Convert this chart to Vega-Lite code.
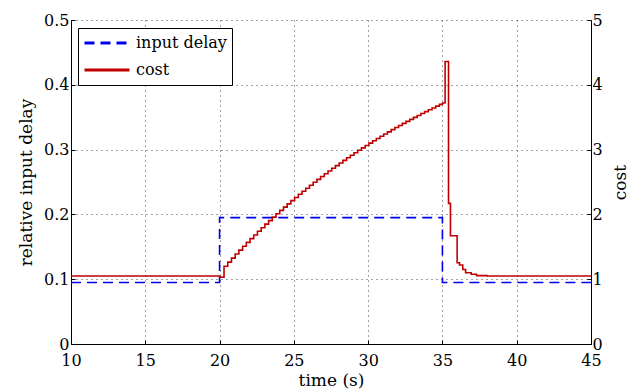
{
  "$schema": "https://vega.github.io/schema/vega-lite/v6.json",
  "width": 520,
  "height": 324,
  "autosize": {"type": "none"},
  "padding": {"left": 71, "top": 20, "right": 40, "bottom": 48},
  "background": "white",
  "config": {
    "font": "DejaVu Serif",
    "view": {"stroke": null},
    "axis": {
      "labelFont": "DejaVu Serif",
      "titleFont": "DejaVu Serif",
      "labelFontSize": 16,
      "titleFontSize": 17,
      "titleFontWeight": "normal",
      "labelColor": "black",
      "titleColor": "black",
      "domainColor": "black",
      "tickColor": "black",
      "domainWidth": 1,
      "tickSize": -4,
      "gridColor": "#444",
      "gridDash": [1, 4],
      "gridWidth": 1
    },
    "legend": {
      "labelFont": "DejaVu Serif",
      "labelFontSize": 16,
      "labelColor": "black"
    }
  },
  "data": {
    "values": [
      {"t": 10, "v": 0.095, "series": "input delay"},
      {"t": 20, "v": 0.195, "series": "input delay"},
      {"t": 35, "v": 0.095, "series": "input delay"},
      {"t": 45, "v": 0.095, "series": "input delay"},
      {"t": 10, "v": 1.05, "series": "cost"},
      {"t": 20.05, "v": 1.03, "series": "cost"},
      {"t": 20.3, "v": 1.2, "series": "cost"},
      {"t": 20.55, "v": 1.264, "series": "cost"},
      {"t": 20.8, "v": 1.326, "series": "cost"},
      {"t": 21.05, "v": 1.388, "series": "cost"},
      {"t": 21.3, "v": 1.449, "series": "cost"},
      {"t": 21.55, "v": 1.509, "series": "cost"},
      {"t": 21.8, "v": 1.568, "series": "cost"},
      {"t": 22.05, "v": 1.626, "series": "cost"},
      {"t": 22.3, "v": 1.683, "series": "cost"},
      {"t": 22.55, "v": 1.74, "series": "cost"},
      {"t": 22.8, "v": 1.795, "series": "cost"},
      {"t": 23.05, "v": 1.85, "series": "cost"},
      {"t": 23.3, "v": 1.904, "series": "cost"},
      {"t": 23.55, "v": 1.958, "series": "cost"},
      {"t": 23.8, "v": 2.01, "series": "cost"},
      {"t": 24.05, "v": 2.062, "series": "cost"},
      {"t": 24.3, "v": 2.113, "series": "cost"},
      {"t": 24.55, "v": 2.163, "series": "cost"},
      {"t": 24.8, "v": 2.213, "series": "cost"},
      {"t": 25.05, "v": 2.261, "series": "cost"},
      {"t": 25.3, "v": 2.31, "series": "cost"},
      {"t": 25.55, "v": 2.357, "series": "cost"},
      {"t": 25.8, "v": 2.404, "series": "cost"},
      {"t": 26.05, "v": 2.45, "series": "cost"},
      {"t": 26.3, "v": 2.495, "series": "cost"},
      {"t": 26.55, "v": 2.54, "series": "cost"},
      {"t": 26.8, "v": 2.584, "series": "cost"},
      {"t": 27.05, "v": 2.627, "series": "cost"},
      {"t": 27.3, "v": 2.67, "series": "cost"},
      {"t": 27.55, "v": 2.712, "series": "cost"},
      {"t": 27.8, "v": 2.753, "series": "cost"},
      {"t": 28.05, "v": 2.794, "series": "cost"},
      {"t": 28.3, "v": 2.834, "series": "cost"},
      {"t": 28.55, "v": 2.874, "series": "cost"},
      {"t": 28.8, "v": 2.913, "series": "cost"},
      {"t": 29.05, "v": 2.952, "series": "cost"},
      {"t": 29.3, "v": 2.99, "series": "cost"},
      {"t": 29.55, "v": 3.027, "series": "cost"},
      {"t": 29.8, "v": 3.064, "series": "cost"},
      {"t": 30.05, "v": 3.1, "series": "cost"},
      {"t": 30.3, "v": 3.136, "series": "cost"},
      {"t": 30.55, "v": 3.172, "series": "cost"},
      {"t": 30.8, "v": 3.206, "series": "cost"},
      {"t": 31.05, "v": 3.241, "series": "cost"},
      {"t": 31.3, "v": 3.274, "series": "cost"},
      {"t": 31.55, "v": 3.308, "series": "cost"},
      {"t": 31.8, "v": 3.34, "series": "cost"},
      {"t": 32.05, "v": 3.373, "series": "cost"},
      {"t": 32.3, "v": 3.405, "series": "cost"},
      {"t": 32.55, "v": 3.436, "series": "cost"},
      {"t": 32.8, "v": 3.467, "series": "cost"},
      {"t": 33.05, "v": 3.497, "series": "cost"},
      {"t": 33.3, "v": 3.527, "series": "cost"},
      {"t": 33.55, "v": 3.557, "series": "cost"},
      {"t": 33.8, "v": 3.586, "series": "cost"},
      {"t": 34.05, "v": 3.615, "series": "cost"},
      {"t": 34.3, "v": 3.643, "series": "cost"},
      {"t": 34.55, "v": 3.671, "series": "cost"},
      {"t": 34.8, "v": 3.698, "series": "cost"},
      {"t": 35.0, "v": 3.72, "series": "cost"},
      {"t": 35.18, "v": 4.36, "series": "cost"},
      {"t": 35.41, "v": 2.17, "series": "cost"},
      {"t": 35.54, "v": 1.67, "series": "cost"},
      {"t": 35.99, "v": 1.255, "series": "cost"},
      {"t": 36.15, "v": 1.22, "series": "cost"},
      {"t": 36.37, "v": 1.15, "series": "cost"},
      {"t": 36.56, "v": 1.1, "series": "cost"},
      {"t": 36.94, "v": 1.077, "series": "cost"},
      {"t": 37.3, "v": 1.055, "series": "cost"},
      {"t": 38.0, "v": 1.05, "series": "cost"},
      {"t": 45.0, "v": 1.05, "series": "cost"}
    ]
  },
  "encoding": {
    "x": {
      "field": "t",
      "type": "quantitative",
      "scale": {"domain": [10, 45], "nice": false, "zero": false},
      "axis": {
        "title": "time (s)",
        "values": [10, 15, 20, 25, 30, 35, 40, 45],
        "grid": true,
        "labelPadding": 12,
        "titlePadding": 4,
        "labelFlush": false
      }
    },
    "color": {
      "field": "series",
      "type": "nominal",
      "scale": {"domain": ["input delay", "cost"], "range": ["#0000ee", "#c00000"]},
      "legend": {
        "title": null,
        "orient": "none",
        "legendX": 7,
        "legendY": 8,
        "symbolType": "stroke",
        "symbolSize": 2025,
        "symbolStrokeWidth": 3,
        "labelOffset": 5,
        "clipHeight": 20,
        "rowPadding": 7,
        "padding": 5,
        "strokeColor": "black",
        "fillColor": "white",
        "cornerRadius": 0
      }
    },
    "strokeDash": {
      "field": "series",
      "type": "nominal",
      "scale": {"domain": ["input delay", "cost"], "range": [[10, 6], [1, 0]]},
      "legend": {
        "title": null,
        "orient": "none",
        "legendX": 7,
        "legendY": 8,
        "symbolType": "stroke",
        "symbolSize": 2025,
        "symbolStrokeWidth": 3,
        "labelOffset": 5,
        "clipHeight": 20,
        "rowPadding": 7,
        "padding": 5,
        "strokeColor": "black",
        "fillColor": "white",
        "cornerRadius": 0
      }
    }
  },
  "layer": [
    {
      "transform": [{"filter": "datum.series == 'input delay'"}],
      "mark": {"type": "line", "interpolate": "step-after", "strokeWidth": 1.6, "clip": true},
      "encoding": {
        "y": {
          "field": "v",
          "type": "quantitative",
          "scale": {"domain": [0, 0.5], "nice": false},
          "axis": {
            "orient": "left",
            "title": "relative input delay",
            "values": [0, 0.1, 0.2, 0.3, 0.4, 0.5],
            "labelExpr": "datum.value == 0 ? '0' : format(datum.value, '.1f')",
            "grid": true,
            "labelPadding": 6,
            "titlePadding": 8
          }
        }
      }
    },
    {
      "transform": [{"filter": "datum.series == 'cost'"}],
      "mark": {"type": "line", "interpolate": "step-after", "strokeWidth": 1.6, "clip": true},
      "encoding": {
        "y": {
          "field": "v",
          "type": "quantitative",
          "scale": {"domain": [0, 5], "nice": false},
          "axis": {
            "orient": "right",
            "title": "cost",
            "titleAngle": 270,
            "titleBaseline": "bottom",
            "values": [0, 1, 2, 3, 4, 5],
            "grid": false,
            "labelPadding": 5,
            "titlePadding": 27
          }
        }
      }
    }
  ],
  "resolve": {"scale": {"y": "independent"}}
}
